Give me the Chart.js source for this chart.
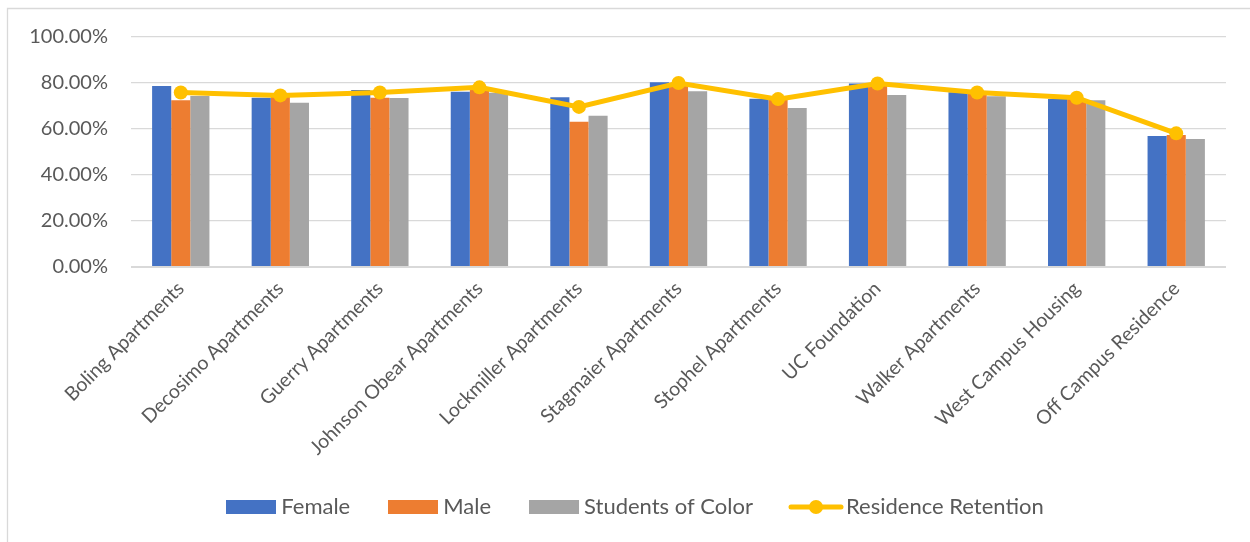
<!DOCTYPE html>
<html><head><meta charset="utf-8">
<script src="https://cdn.jsdelivr.net/npm/chart.js@4/dist/chart.umd.min.js"></script>
<style>html,body{margin:0;padding:0;background:#fff;} #wrap{position:relative;width:1250px;height:542px;}</style>
</head><body><div id="wrap"><canvas id="c" width="1250" height="542"></canvas></div>
<script>
const categories = ["Boling Apartments","Decosimo Apartments","Guerry Apartments","Johnson Obear Apartments","Lockmiller Apartments","Stagmaier Apartments","Stophel Apartments","UC Foundation","Walker Apartments","West Campus Housing","Off Campus Residence"];
const female = [78.7,73.6,77.0,76.2,73.8,80.3,73.2,79.8,76.0,73.0,57.0];
const male = [72.5,74.5,73.6,77.5,63.2,80.0,72.6,79.5,75.5,73.0,57.4];
const studentsOfColor = [74.3,71.4,73.5,75.8,65.8,76.4,69.1,74.8,74.2,72.5,55.6];
const retention = [75.9,74.6,75.9,78.1,69.6,80.0,73.0,79.8,75.9,73.6,58.1];
const seriesNames = ["Female","Male","Students of Color","Residence Retention"];
const seriesColors = ["#4472C4","#ED7D31","#A5A5A5","#FFC000"];
const yTicks = [0,20,40,60,80,100];

const FONT = "Lato, 'Open Sans', sans-serif";
const TXT = "#595959";

function boxImg(color){
  const c=document.createElement('canvas'); c.width=50; c.height=14;
  const x=c.getContext('2d'); x.fillStyle=color; x.fillRect(0,0,50,14); return c;
}
function lineImg(color){
  const c=document.createElement('canvas'); c.width=56; c.height=16;
  const x=c.getContext('2d'); x.strokeStyle=color; x.lineWidth=5; x.lineCap='round';
  x.beginPath(); x.moveTo(3,8); x.lineTo(53,8); x.stroke();
  x.fillStyle=color; x.beginPath(); x.arc(28,8,7,0,Math.PI*2); x.fill(); return c;
}
const legendImgs=[boxImg(seriesColors[0]),boxImg(seriesColors[1]),boxImg(seriesColors[2]),lineImg(seriesColors[3])];

const borderPlugin={id:'border',
  beforeDraw(chart){
    const ctx=chart.ctx; ctx.save(); ctx.fillStyle='#fff'; ctx.fillRect(0,0,1250,542);
    ctx.strokeStyle='#d9d9d9'; ctx.lineWidth=1.3; ctx.beginPath();
    ctx.moveTo(7.5,542); ctx.lineTo(7.5,8.5); ctx.lineTo(1250,8.5); ctx.stroke(); ctx.restore();
  },
  afterLayout(chart){
    const lg=chart.legend; if(!lg) return;
    const h=lg.bottom-lg.top; lg.top=452; lg.bottom=452+h;
    lg.left+=25; lg.right+=25;
  }
};

new Chart(document.getElementById('c'),{
  type:'bar',
  data:{labels:categories,datasets:[
    {label:seriesNames[0],data:female,backgroundColor:seriesColors[0],order:1},
    {label:seriesNames[1],data:male,backgroundColor:seriesColors[1],order:1},
    {label:seriesNames[2],data:studentsOfColor,backgroundColor:seriesColors[2],order:1},
    {type:'line',label:seriesNames[3],data:retention,borderColor:seriesColors[3],backgroundColor:seriesColors[3],
     borderWidth:5,pointRadius:7,pointHoverRadius:7,pointBackgroundColor:seriesColors[3],pointBorderWidth:0,tension:0,order:0}
  ]},
  options:{
    responsive:false,animation:false,devicePixelRatio:1,
    layout:{padding:{left:0,right:24,top:37,bottom:0}},
    datasets:{bar:{categoryPercentage:0.576,barPercentage:1}},
    plugins:{
      tooltip:{enabled:false},
      legend:{position:'bottom',labels:{
        usePointStyle:true,pointStyleWidth:38,padding:44,color:TXT,font:{family:FONT,size:22},
        generateLabels(chart){return seriesNames.map((n,i)=>({text:n,pointStyle:legendImgs[i],fontColor:TXT,datasetIndex:i,hidden:false,lineWidth:0}));}
      }}
    },
    scales:{
      x:{grid:{display:false},border:{display:false},
        ticks:{autoSkip:false,minRotation:45,maxRotation:45,color:TXT,font:{family:FONT,size:19.5},padding:2},
        afterFit(s){s.height=199;}},
      y:{min:0,max:100,border:{display:false},
        grid:{color:'#d9d9d9',lineWidth:(c)=>c.tick&&c.tick.value===0?2:1.3,drawTicks:false},
        afterBuildTicks(s){s.ticks=yTicks.map(v=>({value:v}));},
        ticks:{color:TXT,font:{family:FONT,size:20},padding:23,callback:v=>v.toFixed(2)+'%'},
        afterFit(s){s.width=131;}}
    }
  },
  plugins:[borderPlugin]
});
</script></body></html>
